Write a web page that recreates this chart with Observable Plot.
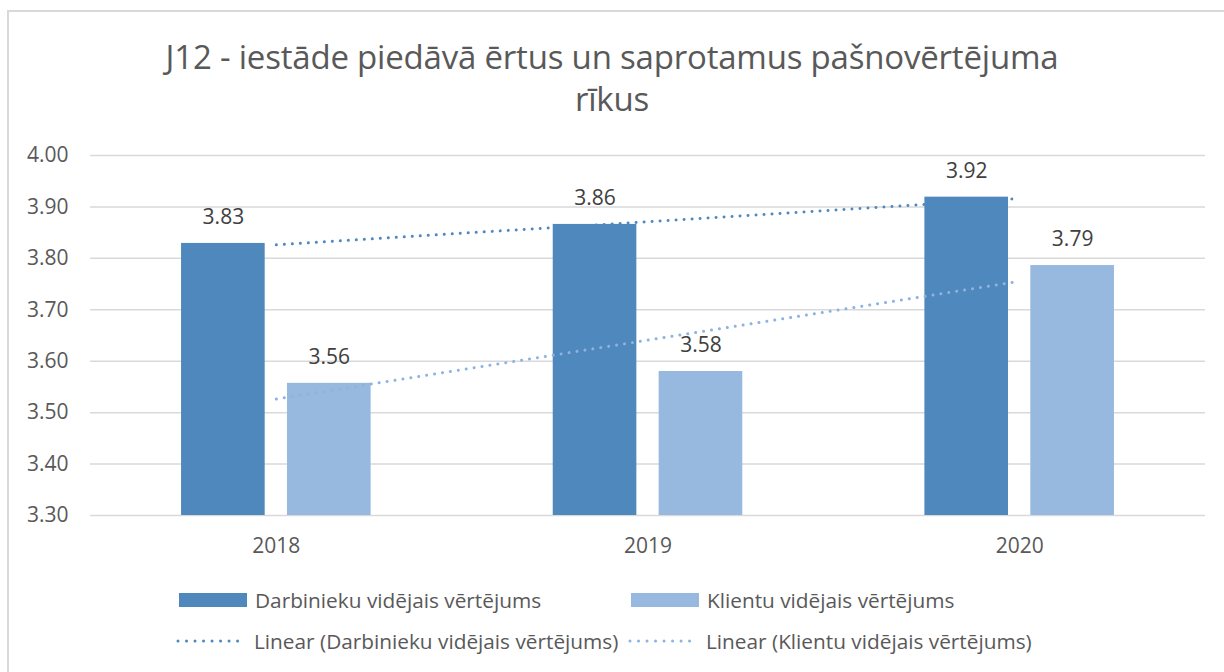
<!DOCTYPE html>
<html>
<head>
<meta charset="utf-8">
<script src="https://cdn.jsdelivr.net/npm/d3@7"></script>
<script src="https://cdn.jsdelivr.net/npm/@observablehq/plot@0.6"></script>
<style>
  html, body { margin: 0; padding: 0; background: #fff; }
  #wrap { position: relative; width: 1224px; height: 672px; overflow: hidden; font-family: "Open Sans", "Noto Sans", sans-serif; color: #595959; }
  #frame { position: absolute; left: 7px; top: 10px; width: 1230px; height: 680px; border-left: 2px solid #d9d9d9; border-top: 2px solid #d9d9d9; box-sizing: border-box; }
  #title { position: absolute; left: 0; width: 1224px; top: 36px; text-align: center; font-size: 33px; line-height: 42px; color: #595959; letter-spacing: -0.2px; }
  #chart { position: absolute; left: 0; top: 135px; }
  .leg { position: absolute; font-size: 20.8px; color: #595959; white-space: nowrap; display: flex; align-items: center; }
  .sw { display: block; width: 68px; height: 14px; margin-right: 8px; }
  .ln { display: block; width: 72px; height: 4px; margin-right: 6px; }
  .ln svg { display: block; }
</style>
</head>
<body>
<div id="wrap">
  <div id="frame"></div>
  <div id="title">J12 - iestāde piedāvā ērtus un saprotamus pašnovērtējuma<br>rīkus</div>
  <div id="chart"></div>
  <div id="legend"></div>
</div>
<script>
const years = [2018, 2019, 2020];
const seriesNames = ["Darbinieku vidējais vērtējums", "Klientu vidējais vērtējums"];
const darbinieki = [3.829, 3.866, 3.919];
const klienti = [3.557, 3.580, 3.786];
const valueLabels = [["3.83", "3.86", "3.92"], ["3.56", "3.58", "3.79"]];
const yTicks = [3.3, 3.4, 3.5, 3.6, 3.7, 3.8, 3.9, 4.0];
const colors = ["#4f88bc", "#97b8df"];
const trendColors = ["#4f88bc", "#8db3e0"];

// layout (not data): bar placement inside each year band, in year units
const barW = 0.225, barGap = 0.03;
const offsets = [-(barGap + barW), barGap];

const rows = [];
[darbinieki, klienti].forEach((vals, s) => {
  vals.forEach((v, i) => rows.push({year: years[i], value: v, series: s, label: valueLabels[s][i],
    x1: years[i] + offsets[s], x2: years[i] + offsets[s] + barW}));
});

// linear trend lines (least squares) from the series values
function trend(vals) {
  const xs = years;
  const mx = d3.mean(xs), my = d3.mean(vals);
  const b = d3.sum(xs, (x, i) => (x - mx) * (vals[i] - my)) / d3.sum(xs, x => (x - mx) ** 2);
  const a = my - b * mx;
  return xs.map(x => ({year: x, value: a + b * x}));
}
const trends = [trend(darbinieki), trend(klienti)];

const chart = Plot.plot({
  width: 1224,
  height: 430,
  marginLeft: 90,
  marginRight: 19,
  marginTop: 20,
  marginBottom: 50,
  style: {fontFamily: "'Open Sans', 'Noto Sans', sans-serif", fontSize: "21px", color: "#595959", background: "transparent"},
  x: {type: "linear", domain: [years[0] - 0.5, years[years.length - 1] + 0.5], axis: null},
  y: {domain: [3.3, 4.0], axis: null},
  marks: [
    Plot.gridY(yTicks, {stroke: "#d9d9d9", strokeOpacity: 1, strokeWidth: 1.5}),
    Plot.rectY(rows, {x1: "x1", x2: "x2", y1: 3.3, y2: "value", fill: d => colors[d.series]}),
    Plot.text(rows, {x: d => (d.x1 + d.x2) / 2, y: "value", text: "label", dy: -26, fill: "#404040", fontSize: 21}),
    ...trends.map((t, s) => Plot.line(t, {x: "year", y: "value", stroke: trendColors[s], strokeWidth: 3, strokeDasharray: "0.01 8", strokeLinecap: "round"})),
    Plot.text(years, {x: d => d, frameAnchor: "bottom", dy: 37, text: d => String(d), fill: "#595959", fontSize: 21}),
    Plot.axisY({ticks: yTicks, tickFormat: d => d.toFixed(2), tickSize: 0, tickPadding: 22, fontSize: 21, fill: "#595959", label: null})
  ]
});
document.getElementById("chart").appendChild(chart);

// legend
const legend = document.getElementById("legend");
const items = [
  {x: 179, y: 600, kind: "sw", c: colors[0], t: seriesNames[0]},
  {x: 631, y: 600, kind: "sw", c: colors[1], t: seriesNames[1]},
  {x: 176, y: 641, kind: "ln", c: trendColors[0], t: "Linear (" + seriesNames[0] + ")"},
  {x: 628, y: 641, kind: "ln", c: trendColors[1], t: "Linear (" + seriesNames[1] + ")"}
];
items.forEach(it => {
  const d = document.createElement("div");
  d.className = "leg";
  d.style.left = it.x + "px";
  d.style.top = (it.y - 15) + "px";
  d.style.height = "30px";
  const m = document.createElement("span");
  if (it.kind === "sw") {
    m.className = "sw"; m.style.background = it.c;
  } else {
    m.className = "ln";
    m.innerHTML = `<svg width="72" height="4"><line x1="2" y1="2" x2="70" y2="2" stroke="${it.c}" stroke-width="3" stroke-linecap="round" stroke-dasharray="0.01 8.5"/></svg>`;
  }
  d.appendChild(m);
  const s = document.createElement("span");
  s.textContent = it.t;
  d.appendChild(s);
  legend.appendChild(d);
});
</script>
</body>
</html>
